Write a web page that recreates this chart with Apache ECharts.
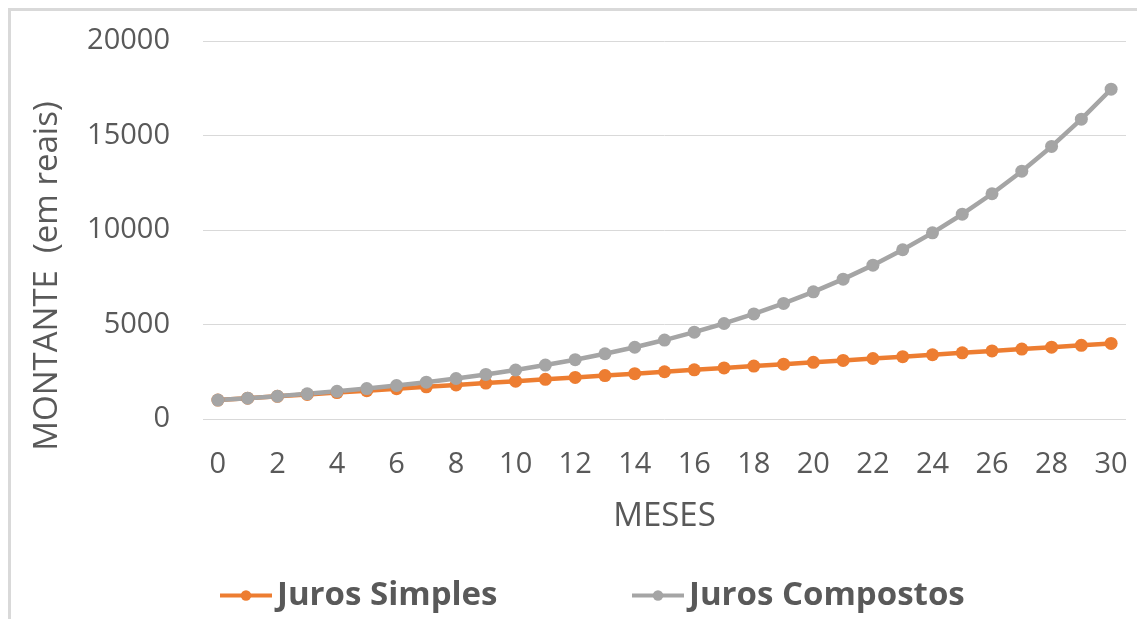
<!DOCTYPE html>
<html>
<head>
<meta charset="utf-8">
<script src="https://cdn.jsdelivr.net/npm/echarts@6/dist/echarts.min.js"></script>
<style>
html,body{margin:0;padding:0;background:#fff;}
#frame{position:absolute;left:8px;top:8px;width:1200px;height:700px;border-left:3px solid #d9d9d9;border-top:3px solid #d9d9d9;}
#chart{position:absolute;left:0;top:0;width:1137px;height:619px;}
</style>
</head>
<body>
<div id="frame"></div>
<div id="chart"></div>
<script>
const months = ['0','1','2','3','4','5','6','7','8','9','10','11','12','13','14','15','16','17','18','19','20','21','22','23','24','25','26','27','28','29','30'];
const jurosSimples = [1000,1100,1200,1300,1400,1500,1600,1700,1800,1900,2000,2100,2200,2300,2400,2500,2600,2700,2800,2900,3000,3100,3200,3300,3400,3500,3600,3700,3800,3900,4000];
const jurosCompostos = [1000,1100,1210,1331,1464,1611,1772,1949,2144,2358,2594,2853,3138,3452,3797,4177,4595,5054,5560,6116,6727,7400,8140,8954,9850,10835,11918,13110,14421,15863,17449];
const seriesNames = ['Juros Simples','Juros Compostos'];
const yTitle = 'MONTANTE  (em reais)';
const xTitle = 'MESES';

const chart = echarts.init(document.getElementById('chart'), null, {renderer:'canvas'});
const font = '"Open Sans", sans-serif';
const txt = '#595959';
const legendStyle = {fontFamily:font,fontSize:33,fontWeight:'bold',color:txt};
const legendCommon = {top:574,itemWidth:52,itemHeight:13,itemGap:0,textStyle:legendStyle,lineStyle:{width:4},padding:[5,5,5,0]};
chart.setOption({
  animation:false,
  backgroundColor:'transparent',
  grid:{left:203,right:11,top:41,bottom:200,containLabel:false},
  legend:[
    Object.assign({data:[seriesNames[0]],left:218},legendCommon),
    Object.assign({data:[seriesNames[1]],left:630},legendCommon)
  ],
  xAxis:{
    type:'category',data:months,boundaryGap:true,
    axisLine:{show:false},axisTick:{show:false},
    axisLabel:{interval:1,margin:31,fontFamily:font,fontSize:29,color:txt},
    name:xTitle,nameLocation:'middle',nameGap:81,
    nameTextStyle:{fontFamily:font,fontSize:33,color:txt}
  },
  yAxis:{
    type:'value',min:0,max:20000,interval:5000,
    axisLine:{show:false},axisTick:{show:false},
    splitLine:{lineStyle:{color:'#d9d9d9',width:1}},
    axisLabel:{margin:33,fontFamily:font,fontSize:29,color:txt,formatter:function(v){return String(v);}}
  },
  graphic:[{
    type:'text',x:48,y:276,rotation:Math.PI/2,
    style:{text:yTitle,fontFamily:font,fontSize:33,fill:txt,align:'center',verticalAlign:'middle'}
  }],
  series:[
    {name:seriesNames[0],type:'line',data:jurosSimples,color:'#ED7D31',
     symbol:'circle',symbolSize:13,lineStyle:{width:4.5},itemStyle:{color:'#ED7D31'}},
    {name:seriesNames[1],type:'line',data:jurosCompostos,color:'#A5A5A5',
     symbol:'circle',symbolSize:13,lineStyle:{width:4.5},itemStyle:{color:'#A5A5A5'}}
  ]
});
</script>
</body>
</html>
